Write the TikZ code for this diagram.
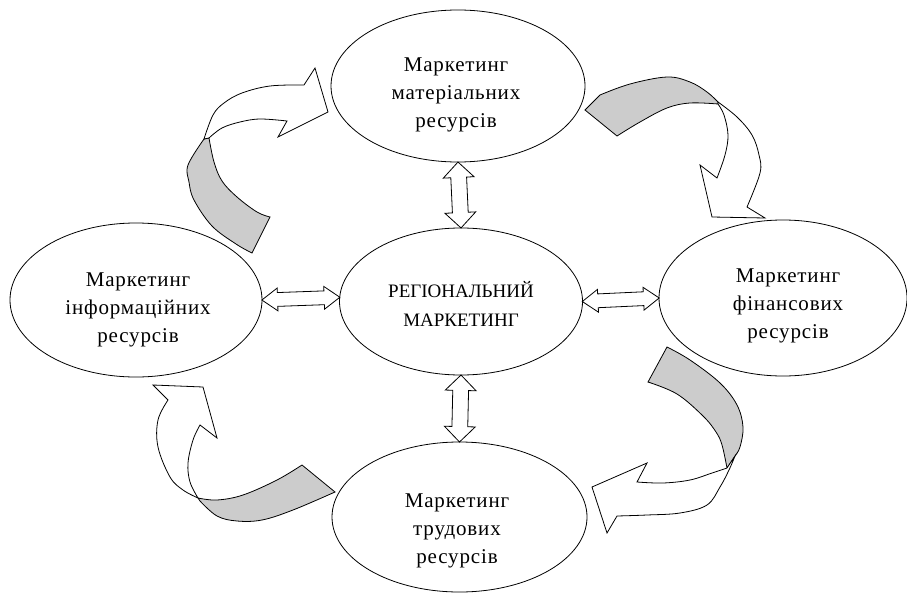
\documentclass[tikz,border=0pt]{standalone}
\usepackage{fontspec}
\setmainfont{Liberation Serif}
\newfontfamily\lblfont{Liberation Serif}[LetterSpace=4.0]
\usetikzlibrary{shapes.geometric,shapes.arrows}
\definecolor{bandgray}{RGB}{204,204,204}
\begin{document}
\begin{tikzpicture}[x=1pt,y=-1pt,
  ell/.style={ellipse,draw,line width=0.8pt,inner sep=0pt},
  lbl/.style={align=center,font=\lblfont\fontsize{21}{28}\selectfont},
  ctrlbl/.style={align=center,font=\fontsize{19}{29}\selectfont},
  band/.style={draw,line width=0.8pt,line join=miter},
  backband/.style={band,fill=bandgray},
  frontband/.style={band,fill=white},
  dblv/.style={double arrow,draw,fill=white,line width=0.8pt,inner xsep=0pt,inner ysep=7.5pt,
    double arrow head extend=7.5pt,double arrow tip angle=90,minimum width=0pt},
  dblh/.style={double arrow,draw,fill=white,line width=0.8pt,inner xsep=0pt,inner ysep=6.5pt,
    double arrow head extend=4.5pt,double arrow tip angle=72,minimum width=0pt}
]
\useasboundingbox (0,0) rectangle (907,594);

% ellipses
\node[ell,minimum width=254pt,minimum height=152pt] (top) at (458,86) {};
\node[ell,minimum width=252pt,minimum height=154pt] (lft) at (136,300) {};
\node[ell,minimum width=243pt,minimum height=147pt] (ctr) at (461,301.5) {};
\node[ell,minimum width=248pt,minimum height=156pt] (rgt) at (783,298) {};
\node[ell,minimum width=255pt,minimum height=150pt] (bot) at (459.5,517) {};

% curved arrow, top left
\filldraw[backband] plot[smooth,tension=0.6] coordinates {(204,139) (188,165) (189,182) (194,200) (212,226) (236,244) (252,253)}
  -- plot[smooth,tension=0.6] coordinates {(270,217) (257,212) (237,197) (222,181) (214,162) (209,138)} -- cycle;
\filldraw[frontband] plot[smooth,tension=0.6] coordinates {(204,139) (213,115) (224,103) (242,93) (270,86) (304,85)}
  -- (315,68) -- (328,112) -- (278,137) -- (287,121)
  -- plot[smooth,tension=0.6] coordinates {(287,121) (260,119) (240,122) (222,128) (209,138)} -- cycle;

% curved arrow, top right
\filldraw[backband] (585,110) -- plot[smooth,tension=0.6] coordinates {(600,95) (630,84) (667,77) (690,82) (707,92) (718,102)}
  -- plot[smooth,tension=0.6] coordinates {(718,104) (690,103) (667,108) (640,122) (617,136)} -- cycle;
\filldraw[frontband] plot[smooth,tension=0.6] coordinates {(718,102) (737,117) (752,135) (759,155) (760,173) (747,207)}
  -- (765,218) -- (712,217) -- (700,165) -- (717,178)
  -- plot[smooth,tension=0.6] coordinates {(717,178) (725,155) (728,135) (724,115) (718,104)} -- cycle;

% curved arrow, bottom right
\filldraw[backband] plot[smooth,tension=0.6] coordinates {(667,347) (690,360) (720,383) (737,405) (743,427) (740,447) (735,456)}
  -- (727,468) -- plot[smooth,tension=0.6] coordinates {(727,468) (722,445) (716,432) (703,416) (677,394) (648,382)} -- cycle;
\filldraw[frontband] plot[smooth,tension=0.6] coordinates {(735,456) (729,470) (720,487) (707,505) (680,513) (647,515) (617,516)}
  -- (607,533) -- (592,487) -- (647,463) -- (637,482)
  -- plot[smooth,tension=0.6] coordinates {(637,482) (663,483) (690,480) (712,473) (727,468)} -- cycle;

% curved arrow, bottom left
\filldraw[backband] plot[smooth,tension=0.6] coordinates {(198,498) (217,500) (243,495) (277,480) (302,465)}
  -- (335,492) -- plot[smooth,tension=0.6] coordinates {(335,492) (293,510) (262,520) (237,521) (217,516) (200,501)} -- cycle;
\filldraw[frontband] (153,385) -- (203,387) -- (217,438) -- (200,425)
  -- plot[smooth,tension=0.6] coordinates {(200,425) (193,440) (188,463) (190,482) (198,498)}
  -- plot[smooth,tension=0.6] coordinates {(198,498) (183,490) (170,477) (158,447) (158,420) (168,400)} -- cycle;

% double arrows between centre and outer ellipses
\path (top.south) -- (ctr.north) node[dblv,midway,sloped,minimum height=66pt] (atop) {};
\path (ctr.south) -- (bot.north) node[dblv,midway,sloped,minimum height=67pt] (abot) {};
\path (lft.east) -- (ctr.178) node[dblh,midway,sloped,minimum height=78pt] (alft) {};
\path (ctr.east) -- (rgt.west) node[dblh,midway,sloped,minimum height=77pt] (argt) {};

% labels
\node[lbl] (ttop) at (456,95) {Маркетинг\\матеріальних\\ресурсів};
\node[lbl] (tlft) at (138,310) {Маркетинг\\інформаційних\\ресурсів};
\node[lbl] (trgt) at (788,306) {Маркетинг\\фінансових\\ресурсів};
\node[lbl] (tbot) at (457,531) {Маркетинг\\трудових\\ресурсів};
\node[ctrlbl] (tctr) at (461,304) {РЕГІОНАЛЬНИЙ\\МАРКЕТИНГ};
\end{tikzpicture}
\end{document}
